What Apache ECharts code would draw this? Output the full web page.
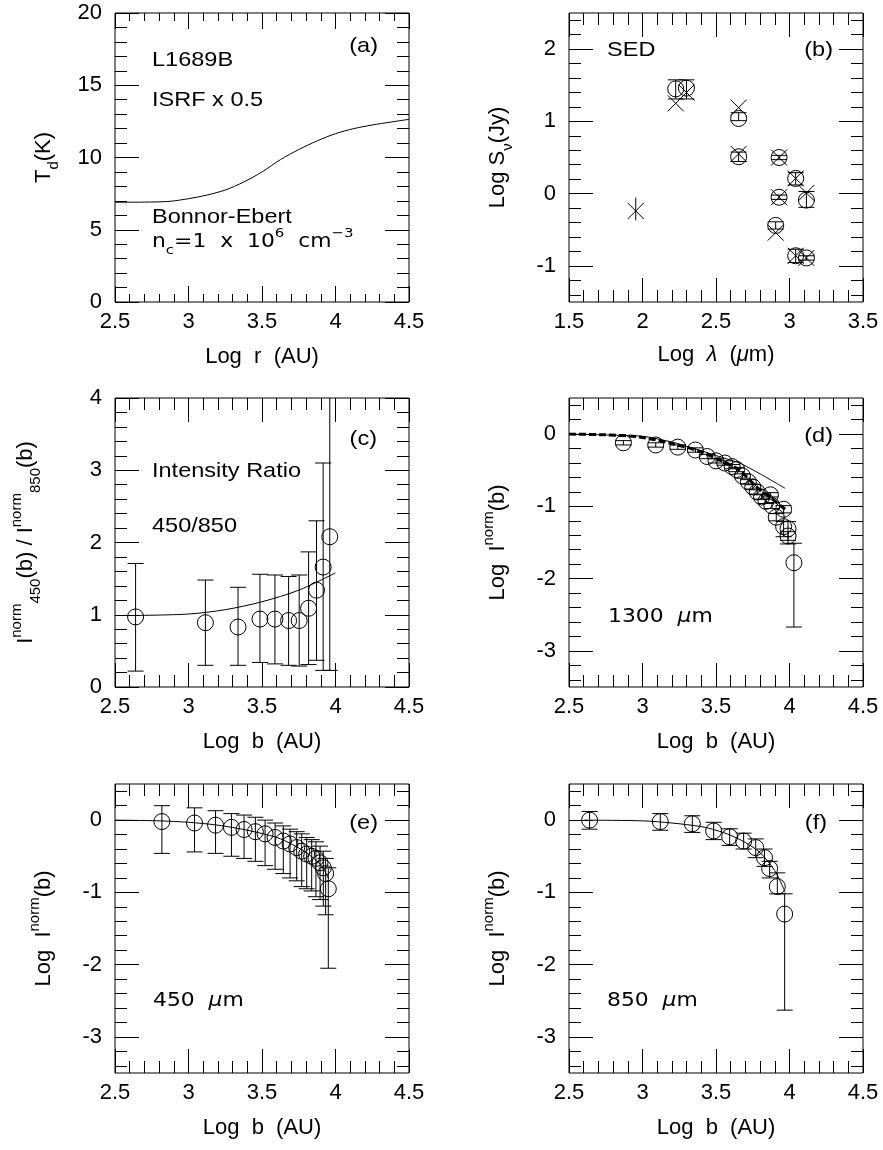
<!DOCTYPE html>
<html>
<head>
<meta charset="utf-8">
<title>L1689B</title>
<script src="https://cdn.jsdelivr.net/npm/echarts@6.0.0/dist/echarts.min.js"></script>
<style>
  html, body { margin: 0; padding: 0; background: #fff; }
  #chart { width: 883px; height: 1150px; }
</style>
</head>
<body>
<div id="chart"></div>
<script>
// (a) dust temperature vs radius
var tdLogR = [2.5, 2.75, 2.875, 3.0, 3.125, 3.25, 3.375, 3.5, 3.625, 3.75, 3.875, 4.0, 4.125, 4.25, 4.375, 4.5];
var tdTemp = [6.9, 6.92, 6.97, 7.15, 7.4, 7.75, 8.3, 9.0, 9.85, 10.55, 11.15, 11.65, 12.0, 12.25, 12.45, 12.64];

// (b) SED: observed (circles + error bars) and model (crosses)
var sedObsLam = [2.226, 2.299, 2.654, 2.654, 2.929, 2.929, 2.906, 3.042, 3.042, 3.115, 3.115];
var sedObsS   = [1.45, 1.46, 1.04, 0.51, 0.50, -0.05, -0.44, 0.21, -0.86, -0.09, -0.89];
var sedObsHi  = [1.575, 1.575, 1.12, 0.575, 0.53, -0.02, -0.39, 0.29, -0.77, 0.03, -0.86];
var sedObsLo  = [1.31, 1.31, 1.01, 0.445, 0.47, -0.08, -0.49, 0.12, -0.955, -0.19, -0.92];
var sedModLam = [1.954, 2.226, 2.299, 2.654, 2.654, 2.929, 2.929, 2.906, 3.042, 3.042, 3.115, 3.115];
var sedModS   = [-0.24, 1.25, 1.40, 1.19, 0.55, 0.50, -0.05, -0.54, 0.21, -0.86, 0.01, -0.89];
var sedLimLam = [1.954];
var sedLimHi  = [-0.055];
var sedLimLo  = [-0.37];

// (c) intensity ratio 450/850
var ratB  = [2.64, 3.115, 3.337, 3.486, 3.588, 3.681, 3.753, 3.817, 3.871, 3.916, 3.961];
var ratV  = [0.97, 0.89, 0.83, 0.94, 0.94, 0.92, 0.92, 1.09, 1.34, 1.66, 2.08];
var ratHi = [1.71, 1.48, 1.38, 1.56, 1.55, 1.53, 1.55, 1.87, 2.30, 3.10, 6.0];
var ratLo = [0.22, 0.30, 0.30, 0.34, 0.32, 0.30, 0.29, 0.31, 0.37, 0.23, 0.23];
var ratModB = [2.64, 3.0, 3.25, 3.5, 3.75, 4.0];
var ratModV = [0.99, 1.01, 1.07, 1.18, 1.34, 1.58];

// (d) 1300 um profile
var d13B  = [2.87, 3.09, 3.24, 3.36, 3.44, 3.50, 3.56, 3.61, 3.64, 3.68, 3.72, 3.75, 3.78, 3.81, 3.84, 3.87, 3.88, 3.91, 3.96, 3.96, 3.99, 3.99, 4.03];
var d13I  = [-0.12, -0.15, -0.18, -0.22, -0.31, -0.37, -0.40, -0.45, -0.49, -0.58, -0.66, -0.73, -0.80, -0.87, -0.93, -0.84, -0.99, -1.15, -1.04, -1.28, -1.31, -1.41, -1.78];
var d13Hi = [-0.09, -0.12, -0.15, -0.19, -0.28, -0.34, -0.37, -0.42, -0.46, -0.55, -0.63, -0.70, -0.77, -0.84, -0.90, -0.81, -0.95, -1.10, -0.99, -1.21, -1.21, -1.35, -1.51];
var d13Lo = [-0.15, -0.18, -0.21, -0.25, -0.34, -0.40, -0.43, -0.48, -0.52, -0.61, -0.69, -0.76, -0.83, -0.90, -0.96, -0.87, -1.03, -1.20, -1.09, -1.42, -1.52, -1.47, -2.67];
var d13ModB  = [2.5, 2.75, 2.98, 3.2, 3.39, 3.55, 3.66, 3.77, 3.89, 3.97];
var d13ModI  = [0, -0.01, -0.04, -0.13, -0.24, -0.38, -0.50, -0.72, -0.91, -1.04];
var d13Mod2B = [2.5, 3.0, 3.2, 3.4, 3.55, 3.66, 3.8, 3.97];
var d13Mod2I = [0, -0.03, -0.11, -0.23, -0.33, -0.40, -0.55, -0.75];

// (e) 450 um profile
var d45B  = [2.819, 3.041, 3.184, 3.292, 3.378, 3.455, 3.521, 3.589, 3.645, 3.691, 3.736, 3.77, 3.804, 3.838, 3.867, 3.895, 3.917, 3.933, 3.951];
var d45I  = [-0.02, -0.04, -0.07, -0.10, -0.13, -0.16, -0.19, -0.24, -0.29, -0.33, -0.38, -0.43, -0.47, -0.50, -0.53, -0.59, -0.66, -0.74, -0.95];
var d45Hi = [0.20, 0.17, 0.13, 0.09, 0.07, 0.04, 0.0, -0.04, -0.08, -0.125, -0.16, -0.19, -0.24, -0.27, -0.30, -0.36, -0.43, -0.53, -0.66];
var d45Lo = [-0.46, -0.44, -0.46, -0.50, -0.53, -0.57, -0.63, -0.68, -0.74, -0.80, -0.84, -0.92, -0.95, -0.98, -1.06, -1.10, -1.19, -1.31, -2.05];
var d45ModB = [2.5, 2.8, 3.0, 3.2, 3.4, 3.6, 3.7, 3.8, 3.9, 3.95];
var d45ModI = [0, -0.01, -0.03, -0.07, -0.14, -0.24, -0.33, -0.45, -0.62, -0.80];

// (f) 850 um profile
var d85B  = [2.64, 3.121, 3.339, 3.484, 3.593, 3.688, 3.77, 3.83, 3.865, 3.917, 3.967];
var d85I  = [0.0, -0.02, -0.05, -0.15, -0.23, -0.29, -0.38, -0.52, -0.67, -0.92, -1.30];
var d85Hi = [0.12, 0.09, 0.06, -0.03, -0.12, -0.18, -0.26, -0.40, -0.57, -0.73, -1.02];
var d85Lo = [-0.125, -0.14, -0.17, -0.27, -0.35, -0.40, -0.52, -0.64, -0.80, -1.02, -2.63];
var d85ModB = [2.6, 3.0, 3.2, 3.4, 3.5, 3.6, 3.7, 3.8, 3.9, 3.95, 3.97];
var d85ModI = [0, -0.01, -0.04, -0.09, -0.14, -0.21, -0.31, -0.45, -0.70, -0.90, -1.0];

// tick labels
var logTicks = [2.5, 3, 3.5, 4, 4.5];
var lamTicks = [1.5, 2, 2.5, 3, 3.5];
var tempTicks = [0, 5, 10, 15, 20];
var sedTicks = [-1, 0, 1, 2];
var ratTicks = [0, 1, 2, 3, 4];
var profTicks = [-3, -2, -1, 0];

var FONT = 'Liberation Sans';

function minorTicks(from, to, step, skip) {
  var out = [];
  var n = Math.round((to - from) / step);
  for (var i = 0; i <= n; i++) {
    var v = +(from + i * step).toFixed(3);
    if (skip.indexOf(v) < 0) out.push(v);
  }
  return out;
}

function pairs(xs, ys) {
  return xs.map(function (x, i) { return [x, ys[i]]; });
}
function triples(xs, lo, hi) {
  return xs.map(function (x, i) { return [x, lo[i], hi[i]]; });
}

var rich = {
  m: { fontSize: 22, fontFamily: FONT, color: '#000', lineHeight: 34 },
  i: { fontSize: 22, fontFamily: FONT, color: '#000', lineHeight: 34, fontStyle: 'italic' },
  sub: { fontSize: 15, fontFamily: FONT, color: '#000', verticalAlign: 'bottom' },
  sup: { fontSize: 15, fontFamily: FONT, color: '#000', verticalAlign: 'top' }
};

function oneAxis(g, pos, min, max, ticks, len, withLabel, name, gap) {
  var ax = {
    type: 'value', gridIndex: g, position: pos, min: min, max: max,
    axisLine: { show: false, onZero: false },
    splitLine: { show: false },
    axisTick: { show: true, inside: true, length: len, customValues: ticks, lineStyle: { color: '#000', width: 1 } },
    axisLabel: { show: false },
    silent: true
  };
  if (withLabel) {
    ax.axisLabel = { show: true, customValues: ticks, fontSize: 22, fontFamily: FONT, color: '#000',
      margin: (pos === 'left' ? 13 : 9) };
    ax.name = name;
    ax.nameLocation = 'middle';
    ax.nameGap = gap;
    ax.nameMoveOverlap = false;
    ax.nameTextStyle = { rich: rich, fontSize: 22, fontFamily: FONT, color: '#000' };
  }
  return ax;
}

function axisSet(g, near, far, min, max, major, minor, majLen, minLen, name, gap) {
  return [
    oneAxis(g, near, min, max, major, majLen, true, name, gap),
    oneAxis(g, near, min, max, minor, minLen, false),
    oneAxis(g, far, min, max, major, majLen, false),
    oneAxis(g, far, min, max, minor, minLen, false)
  ];
}

var logMinor = minorTicks(2.5, 4.5, 0.1, logTicks);
var lamMinor = minorTicks(1.5, 3.5, 0.1, lamTicks);
var profMinor = minorTicks(-3.4, 0.4, 0.2, profTicks);

var xBName = '{m|Log  }{i|λ}{m|  (}{i|μ}{m|m)}';
var xLogB = '{m|Log  b  (AU)}';
var profName = '{m|Log  I}{sup|norm}{m|(b)}';

var xAxes = [].concat(
  axisSet(0, 'bottom', 'top', 2.5, 4.5, logTicks, logMinor, 16, 8, '{m|Log  r  (AU)}', 38),
  axisSet(1, 'bottom', 'top', 1.5, 3.5, lamTicks, lamMinor, 24, 12, xBName, 36),
  axisSet(2, 'bottom', 'top', 2.5, 4.5, logTicks, logMinor, 24, 12, xLogB, 38),
  axisSet(3, 'bottom', 'top', 2.5, 4.5, logTicks, logMinor, 24, 12, xLogB, 38),
  axisSet(4, 'bottom', 'top', 2.5, 4.5, logTicks, logMinor, 24, 12, xLogB, 38),
  axisSet(5, 'bottom', 'top', 2.5, 4.5, logTicks, logMinor, 24, 12, xLogB, 38)
);
var yAxes = [].concat(
  axisSet(0, 'left', 'right', 0, 20, tempTicks, minorTicks(0, 20, 1, tempTicks), 24, 12, '{m|T}{sub|d}{m|(K)}', 54),
  axisSet(1, 'left', 'right', -1.5, 2.5, sedTicks, minorTicks(-1.4, 2.4, 0.2, sedTicks), 24, 12, '{m|Log S}{sub|ν}{m|(Jy)}', 54),
  axisSet(2, 'left', 'right', 0, 4, ratTicks, minorTicks(0, 4, 0.2, ratTicks), 24, 12,
    '{m|I}{sup|norm}{sub|450}{m|(b) / I}{sup|norm}{sub|850}{m|(b)}', 72),
  axisSet(3, 'left', 'right', -3.5, 0.5, profTicks, profMinor, 24, 12, profName, 54),
  axisSet(4, 'left', 'right', -3.5, 0.5, profTicks, profMinor, 24, 12, profName, 54),
  axisSet(5, 'left', 'right', -3.5, 0.5, profTicks, profMinor, 24, 12, profName, 54)
);

var gridPos = [[115, 13], [569, 13], [115, 398], [569, 398], [115, 784], [569, 784]];

function makeErr(capHalf) {
  return function (params, api) {
    var x = api.value(0), lo = api.value(1), hi = api.value(2);
    var cs = params.coordSys;
    var pLo = api.coord([x, lo]), pHi = api.coord([x, hi]);
    var top = cs.y, bot = cs.y + cs.height;
    var st = { stroke: '#000', lineWidth: 1, fill: null };
    var kids = [{ type: 'line', shape: { x1: pLo[0], y1: Math.min(pLo[1], bot), x2: pHi[0], y2: Math.max(pHi[1], top) }, style: st }];
    if (capHalf > 0) {
      if (pHi[1] >= top) kids.push({ type: 'line', shape: { x1: pHi[0] - capHalf, y1: pHi[1], x2: pHi[0] + capHalf, y2: pHi[1] }, style: st });
      if (pLo[1] <= bot) kids.push({ type: 'line', shape: { x1: pLo[0] - capHalf, y1: pLo[1], x2: pLo[0] + capHalf, y2: pLo[1] }, style: st });
    }
    return { type: 'group', children: kids };
  };
}

function crossRender(params, api) {
  var p = api.coord([api.value(0), api.value(1)]);
  var h = 8;
  var st = { stroke: '#000', lineWidth: 1 };
  return { type: 'group', children: [
    { type: 'line', shape: { x1: p[0] - h, y1: p[1] - h, x2: p[0] + h, y2: p[1] + h }, style: st },
    { type: 'line', shape: { x1: p[0] - h, y1: p[1] + h, x2: p[0] + h, y2: p[1] - h }, style: st }
  ] };
}

function circles(g, data) {
  return { type: 'scatter', xAxisIndex: 4 * g, yAxisIndex: 4 * g, data: data, symbol: 'circle', symbolSize: 16,
    itemStyle: { color: 'rgba(0,0,0,0)', borderColor: '#000', borderWidth: 1, opacity: 1 }, silent: true, z: 3 };
}
function errs(g, data, capHalf) {
  return { type: 'custom', xAxisIndex: 4 * g, yAxisIndex: 4 * g, data: data, renderItem: makeErr(capHalf), silent: true, z: 2 };
}
function curve(g, data, extra) {
  var s = { type: 'line', xAxisIndex: 4 * g, yAxisIndex: 4 * g, data: data, showSymbol: false, smooth: 0.3,
    lineStyle: { color: '#000', width: 1 }, silent: true, z: 2 };
  for (var k in extra) s[k] = extra[k];
  return s;
}

var series = [
  curve(0, pairs(tdLogR, tdTemp)),
  errs(1, triples(sedObsLam, sedObsLo, sedObsHi), 8),
  errs(1, triples(sedLimLam, sedLimLo, sedLimHi), 0),
  circles(1, pairs(sedObsLam, sedObsS)),
  { type: 'custom', xAxisIndex: 4, yAxisIndex: 4, data: pairs(sedModLam, sedModS), renderItem: crossRender, silent: true, z: 3 },
  curve(2, pairs(ratModB, ratModV)),
  errs(2, triples(ratB, ratLo, ratHi), 8),
  circles(2, pairs(ratB, ratV)),
  curve(3, pairs(d13ModB, d13ModI), { lineStyle: { color: '#000', width: 3, type: [7, 3] } }),
  curve(3, pairs(d13Mod2B, d13Mod2I), { smooth: 0.2 }),
  errs(3, triples(d13B, d13Lo, d13Hi), 8),
  circles(3, pairs(d13B, d13I)),
  curve(4, pairs(d45ModB, d45ModI)),
  errs(4, triples(d45B, d45Lo, d45Hi), 8),
  circles(4, pairs(d45B, d45I)),
  curve(5, pairs(d85ModB, d85ModI)),
  errs(5, triples(d85B, d85Lo, d85Hi), 8),
  circles(5, pairs(d85B, d85I))
];

function label(x, y, text, align, opts) {
  opts = opts || {};
  return {
    type: 'text', x: x, y: y, scaleX: opts.scaleX || 1.12, silent: true,
    style: {
      text: text, fill: '#000', align: align, verticalAlign: 'middle',
      fontSize: opts.fontSize || 21, fontFamily: opts.fontFamily || FONT,
      rich: opts.rich
    }
  };
}

var hershey = {
  m: { fontSize: 19, fontFamily: 'DejaVu Sans', fill: '#000', lineHeight: 30 },
  i: { fontSize: 19, fontFamily: 'DejaVu Sans', fill: '#000', lineHeight: 30, fontStyle: 'italic' },
  sub: { fontSize: 13, fontFamily: 'DejaVu Sans', fill: '#000', verticalAlign: 'bottom' },
  sup: { fontSize: 13, fontFamily: 'DejaVu Sans', fill: '#000', verticalAlign: 'top' }
};
var hOpts = { fontFamily: 'DejaVu Sans', fontSize: 19, rich: hershey, scaleX: 1.15 };

var graphics = [
  label(378, 46, '(a)', 'right'),
  label(152, 60, 'L1689B', 'left'),
  label(152, 100, 'ISRF x 0.5', 'left'),
  label(152, 217, 'Bonnor-Ebert', 'left'),
  label(152, 242, '{m|n}{sub|c}{m|=1  x  10}{sup|6}{m|  cm}{sup|−3}', 'left', hOpts),
  label(607, 50, 'SED', 'left'),
  label(833, 50, '(b)', 'right'),
  label(377, 439, '(c)', 'right'),
  label(152, 471, 'Intensity Ratio', 'left'),
  label(152, 526, '450/850', 'left'),
  label(833, 436, '(d)', 'right'),
  label(608, 617, '{m|1300  }{i|μ}{m|m}', 'left', hOpts),
  label(378, 823, '(e)', 'right'),
  label(153, 1001, '{m|450  }{i|μ}{m|m}', 'left', hOpts),
  label(827, 823, '(f)', 'right'),
  label(607, 1001, '{m|850  }{i|μ}{m|m}', 'left', hOpts)
];

var chart = echarts.init(document.getElementById('chart'));
chart.setOption({
  animation: false,
  backgroundColor: '#fff',
  grid: gridPos.map(function (p) {
    return { left: p[0], top: p[1], width: 294, height: 289, show: true, borderColor: '#000', borderWidth: 1,
      backgroundColor: 'transparent', containLabel: false, outerBoundsMode: 'none' };
  }),
  xAxis: xAxes,
  yAxis: yAxes,
  series: series,
  graphic: graphics
});
</script>
</body>
</html>
